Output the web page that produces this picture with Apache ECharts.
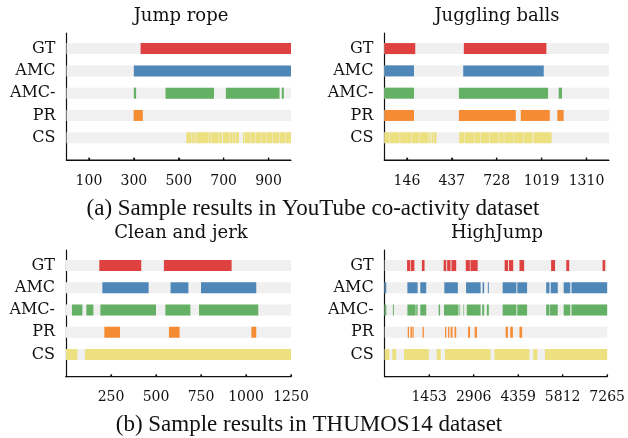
<!DOCTYPE html>
<html><head><meta charset="utf-8">
<script src="https://cdn.jsdelivr.net/npm/echarts@6/dist/echarts.min.js"></script>
<style>html,body{margin:0;padding:0;background:#fff}#c{width:628px;height:438px}</style>
</head><body><div id="c"></div>
<script>
// ---------- data ----------
const rowNames = ['GT', 'AMC', 'AMC-', 'PR', 'CS'];
const panelTitles = ['Jump rope', 'Juggling balls', 'Clean and jerk', 'HighJump'];
const captionA = '(a) Sample results in YouTube co-activity dataset';
const captionB = '(b) Sample results in THUMOS14 dataset';
const axisMax = [1000, 1456, 1250, 7265];

const jumpRopeTicks = [100, 300, 500, 700, 900];
const jugglingTicks = [146, 437, 728, 1019, 1310];
const cleanJerkTicks = [250, 500, 750, 1000, 1250];
const highJumpTicks = [1453, 2906, 4359, 5812, 7265];

// Jump rope segments [start, end]
const jumpRopeGT = [[330, 1000]];
const jumpRopeAMC = [[300, 1000]];
const jumpRopeAMCm = [[300, 310], [441, 657], [710, 949], [959, 968]];
const jumpRopePR = [[299, 340]];
const jumpRopeCS = [[534, 557], [560, 571], [573, 580], [582, 633], [635, 646], [648, 678], [680, 693], [697, 725], [727, 740], [742, 752], [754, 768], [786, 792], [794, 817], [819, 841], [843, 866], [868, 891], [893, 918], [920, 948], [950, 974], [976, 1000]];

// Juggling balls
const jugglingGT = [[0, 200], [515, 1050]];
const jugglingAMC = [[0, 192], [511, 1033]];
const jugglingAMCm = [[0, 192], [483, 1061], [1130, 1151]];
const jugglingPR = [[0, 192], [483, 852], [884, 1072], [1121, 1162]];
const jugglingCS = [[0, 34], [37, 99], [102, 174], [177, 224], [227, 283], [286, 295], [298, 305], [308, 316], [319, 338], [485, 519], [522, 584], [587, 623], [626, 681], [684, 741], [744, 774], [777, 838], [841, 901], [904, 960], [966, 1084]];

// Clean and jerk
const cleanJerkGT = [[185, 418], [544, 920]];
const cleanJerkAMC = [[202, 459], [581, 680], [750, 1057]];
const cleanJerkAMCm = [[33, 91], [113, 152], [191, 500], [552, 691], [739, 1068]];
const cleanJerkPR = [[213, 300], [572, 631], [1030, 1057]];
const cleanJerkCS = [[0, 63], [106, 1250]];

// HighJump
const highJumpGT = [[730, 830], [850, 969], [1214, 1301], [1924, 2010], [2040, 2150], [2180, 2335], [2648, 2780], [2800, 3035], [3917, 4030], [4060, 4196], [4401, 4553], [5434, 5563], [5929, 6025], [7113, 7200]];
const highJumpAMC = [[0, 52], [741, 1075], [1162, 1356], [1947, 2389], [2657, 3132], [3196, 3248], [3368, 3400], [3852, 4300], [4330, 4650], [5273, 5380], [5420, 5651], [5845, 6060], [6100, 7265]];
const highJumpAMCm = [[0, 52], [268, 300], [741, 1010], [1030, 1075], [1162, 1356], [1763, 1808], [1937, 2409], [2442, 2464], [2571, 2593], [2680, 3132], [3184, 3248], [3335, 3400], [3852, 4300], [4330, 4650], [5273, 5380], [5400, 5651], [5845, 6060], [6100, 7265]];
const highJumpPR = [[752, 794], [840, 890], [905, 946], [1237, 1279], [1970, 2012], [2066, 2109], [2152, 2215], [2280, 2335], [2722, 2787], [2938, 3013], [3949, 4024], [4100, 4186], [4401, 4488]];
const highJumpCS = [[0, 150], [246, 375], [633, 1440], [1698, 1828], [1970, 3455], [3584, 4724], [4853, 4982], [5231, 7265]];

// ---------- assembly ----------
const panelRows = [
  [jumpRopeGT, jumpRopeAMC, jumpRopeAMCm, jumpRopePR, jumpRopeCS],
  [jugglingGT, jugglingAMC, jugglingAMCm, jugglingPR, jugglingCS],
  [cleanJerkGT, cleanJerkAMC, cleanJerkAMCm, cleanJerkPR, cleanJerkCS],
  [highJumpGT, highJumpAMC, highJumpAMCm, highJumpPR, highJumpCS]
];
const panelTicks = [jumpRopeTicks, jugglingTicks, cleanJerkTicks, highJumpTicks];

const rowColors = ['#df4040', '#4e87b8', '#64b064', '#f58c34', '#ece080'];
const bgColor = '#f0f0f0';
const axisColor = '#111';
const labelFont = 'DejaVu Serif';
const nRows = rowNames.length;           // row i sits at y = nRows - i (GT = 5 ... CS = 1)

const grids = [
  {left: 66.5, top: 33, width: 224.5, height: 127},
  {left: 384.4, top: 33, width: 224.6, height: 127},
  {left: 66, top: 250, width: 225, height: 126.7},
  {left: 384.7, top: 250, width: 224.3, height: 126.7}
];

function renderBar(colorFn) {
  return function (params, api) {
    const s = api.coord([api.value(0), api.value(2)]);
    const e = api.coord([api.value(1), api.value(2)]);
    const h = 11;
    return {
      type: 'rect',
      shape: {x: s[0], y: s[1] - h / 2, width: e[0] - s[0], height: h},
      style: {fill: colorFn(api.value(2))}
    };
  };
}

// bottom axis line + inside ticks, drawn through the axis scale
function renderAxisLine(tickVals) {
  return function (params, api) {
    const a = api.coord([api.value(0), 0]);
    const b = api.coord([api.value(1), 0]);
    const children = [{type: 'line', shape: {x1: a[0] - 0.6, y1: a[1], x2: b[0], y2: b[1]}, style: {stroke: axisColor, lineWidth: 1.2}}];
    tickVals.forEach(t => {
      const c = api.coord([t, 0]);
      children.push({type: 'line', shape: {x1: c[0], y1: c[1], x2: c[0], y2: c[1] - 2.5}, style: {stroke: axisColor, lineWidth: 1.2}});
    });
    return {type: 'group', children: children};
  };
}

const xAxes = [], yAxes = [], series = [];
panelRows.forEach((rows, p) => {
  xAxes.push({
    type: 'value', gridIndex: p, min: 0, max: axisMax[p],
    axisLine: {show: true, lineStyle: {color: axisColor, width: 1.2}},
    axisTick: {show: true, inside: true, length: 2, customValues: panelTicks[p], lineStyle: {color: axisColor, width: 1.2}},
    axisLabel: {customValues: panelTicks[p], formatter: v => String(v), fontFamily: labelFont, fontSize: 14, color: axisColor, margin: 14},
    splitLine: {show: false}
  });
  yAxes.push({
    type: 'value', gridIndex: p, min: 0, max: nRows + 0.7,
    axisLine: {show: true, lineStyle: {color: axisColor, width: 1.2}},
    axisTick: {show: false},
    axisLabel: {customValues: [1, 2, 3, 4, 5], formatter: v => rowNames[nRows - v], fontFamily: labelFont, fontSize: 16, color: axisColor, margin: 11},
    splitLine: {show: false}
  });
  const bgData = rowNames.map((n, i) => [0, axisMax[p], nRows - i]);
  series.push({
    type: 'custom', xAxisIndex: p, yAxisIndex: p,
    renderItem: renderBar(() => bgColor),
    encode: {x: [0, 1], y: 2},
    data: bgData
  });
  const segData = [];
  rows.forEach((segs, i) => segs.forEach(sg => segData.push([sg[0], sg[1], nRows - i])));
  series.push({
    type: 'custom', xAxisIndex: p, yAxisIndex: p,
    renderItem: renderBar(v => rowColors[nRows - v]),
    encode: {x: [0, 1], y: 2},
    data: segData
  });
  series.push({
    type: 'custom', xAxisIndex: p, yAxisIndex: p, clip: false, z: 10,
    renderItem: renderAxisLine(panelTicks[p]),
    encode: {x: [0, 1]},
    data: [[0, axisMax[p]]]
  });
});

const titleAnchors = [[181, 7], [497, 7], [181, 224], [497, 224]];
const titles = panelTitles.map((t, i) => ({
  text: t, left: titleAnchors[i][0], top: titleAnchors[i][1], textAlign: 'left', padding: 0,
  textStyle: {fontFamily: 'DejaVu Serif', fontSize: 18, fontWeight: 'normal', color: axisColor}
}));
[[captionA, 313, 197], [captionB, 309, 413]].forEach(c => titles.push({
  text: c[0], left: c[1], top: c[2], padding: 0,
  textStyle: {fontFamily: 'Liberation Serif', fontSize: 23, fontWeight: 'normal', color: axisColor}
}));
titles.forEach(t => { t.textAlign = 'center'; });

const chart = echarts.init(document.getElementById('c'));
chart.setOption({
  animation: false,
  title: titles,
  grid: grids,
  xAxis: xAxes,
  yAxis: yAxes,
  series: series
});
</script>
</body></html>
